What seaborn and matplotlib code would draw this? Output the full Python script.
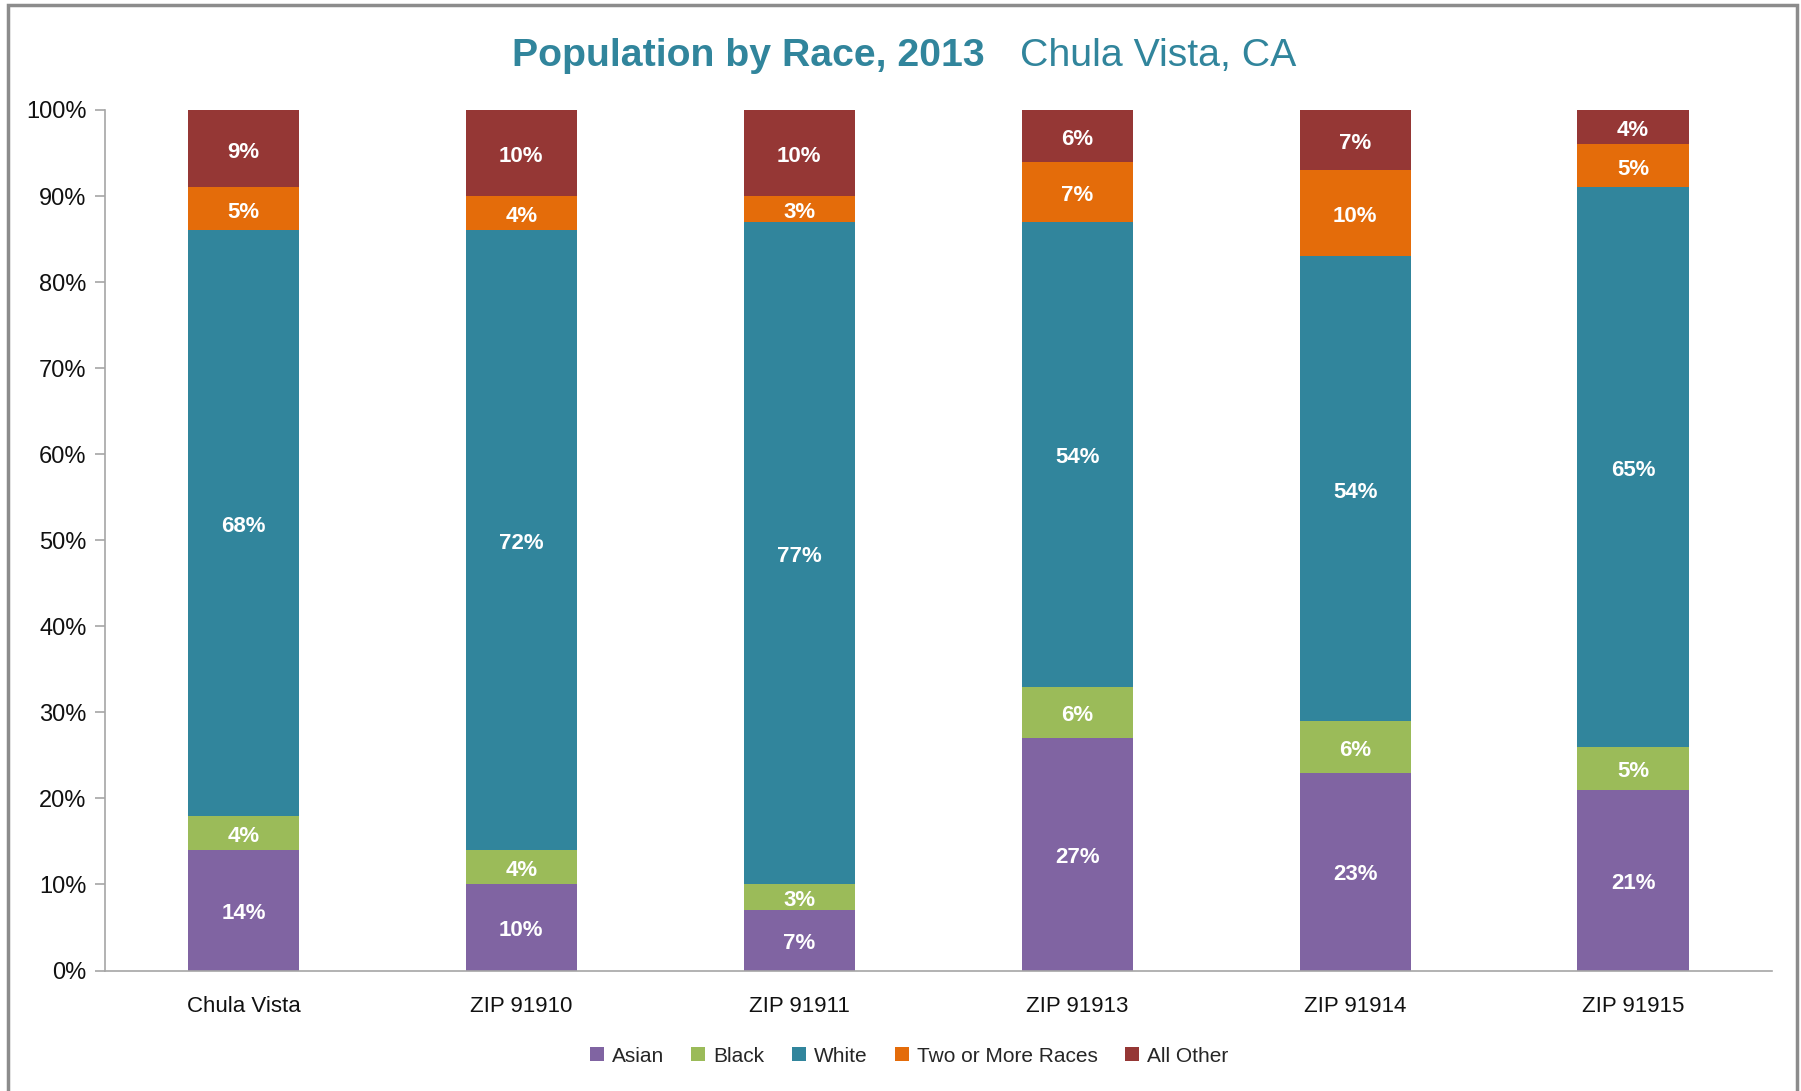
import matplotlib
matplotlib.use("Agg")
import matplotlib.pyplot as plt
from matplotlib.patches import Patch, Rectangle
from matplotlib.ticker import FixedLocator, PercentFormatter
import numpy as np
import pandas as pd
import seaborn as sns

# data (percent of population)
places = ["Chula Vista", "ZIP 91910", "ZIP 91911", "ZIP 91913", "ZIP 91914", "ZIP 91915"]
races = ["Asian", "Black", "White", "Two or More Races", "All Other"]
asian = [14, 10, 7, 27, 23, 21]
black = [4, 4, 3, 6, 6, 5]
white = [68, 72, 77, 54, 54, 65]
two_more = [5, 4, 3, 7, 10, 5]
all_other = [9, 10, 10, 6, 7, 4]

colors = ["#8064A2", "#9BBB59", "#31859C", "#E46C0A", "#953735"]
title_color = "#31859C"

sns.set_style("white")
plt.rcParams["font.family"] = ["Liberation Sans", "DejaVu Sans"]

df = pd.DataFrame({"place": places, "Asian": asian, "Black": black, "White": white,
                   "Two or More Races": two_more, "All Other": all_other})
cum = df[races].cumsum(axis=1)

fig = plt.figure(figsize=(18.01, 10.91), dpi=100)
ax = fig.add_axes([104.5 / 1801, 1 - 970.5 / 1091, (1772 - 104.5) / 1801, (970.5 - 110) / 1091])

# stacked bars: draw cumulative totals from the top layer down
for race, col in reversed(list(zip(races, colors))):
    sns.barplot(x=df["place"], y=cum[race], color=col, width=0.4, saturation=1,
                edgecolor="none", linewidth=0, ax=ax)

# white value labels in the middle of each segment (nudged a bit down, like the original)
for i in range(len(places)):
    for race in races:
        v = df.loc[i, race]
        mid = cum.loc[i, race] - v / 2
        ax.text(i, mid - 0.4, f"{v}%", ha="center", va="center", color="white",
                fontsize=16, fontweight="bold")

ax.set_xlim(-0.5, len(places) - 0.5)
ax.set_ylim(0, 100)
ax.set_yticks(np.arange(0, 101, 10))
ax.yaxis.set_major_formatter(PercentFormatter(decimals=0))
ax.set_xlabel("")
ax.set_ylabel("")

ax.xaxis.set_minor_locator(FixedLocator(np.arange(-0.5, len(places), 1.0)))
ax.tick_params(axis="x", which="major", length=0, pad=18, labelsize=16, labelcolor="#111111")
ax.tick_params(axis="x", which="minor", length=9, width=1.2, color="#A6A6A6", direction="out")
ax.tick_params(axis="y", which="major", length=7, width=1.2, color="#A6A6A6", direction="out",
               left=True, labelsize=17, labelcolor="#111111", pad=6)

for s in ["top", "right"]:
    ax.spines[s].set_visible(False)
for s in ["left", "bottom"]:
    ax.spines[s].set_color("#A6A6A6")
    ax.spines[s].set_linewidth(1.2)

handles = [Patch(facecolor=c, edgecolor="none", label=r) for r, c in zip(races, colors)]
fig.legend(handles=handles, loc="center", bbox_to_anchor=(909 / 1801, 1 - 1056 / 1091),
           ncol=5, frameon=False, fontsize=15, handlelength=0.67, handleheight=0.67,
           handletextpad=0.4, columnspacing=1.3)

fig.text(985 / 1801, 1 - 66 / 1091, "Population by Race, 2013", ha="right", va="baseline",
         fontsize=28.3, fontweight="bold", color=title_color)
fig.text(1020 / 1801, 1 - 66 / 1091, "Chula Vista, CA", ha="left", va="baseline",
         fontsize=28.3, color=title_color)

# outer frame of the chart box
fig.patches.append(Rectangle((8 / 1801, -0.05), (1797 - 8) / 1801, 1.05 - 5 / 1091,
                             transform=fig.transFigure, fill=False, edgecolor="#8C8C8C",
                             linewidth=2.5))

fig.savefig("out.png", dpi=100)
